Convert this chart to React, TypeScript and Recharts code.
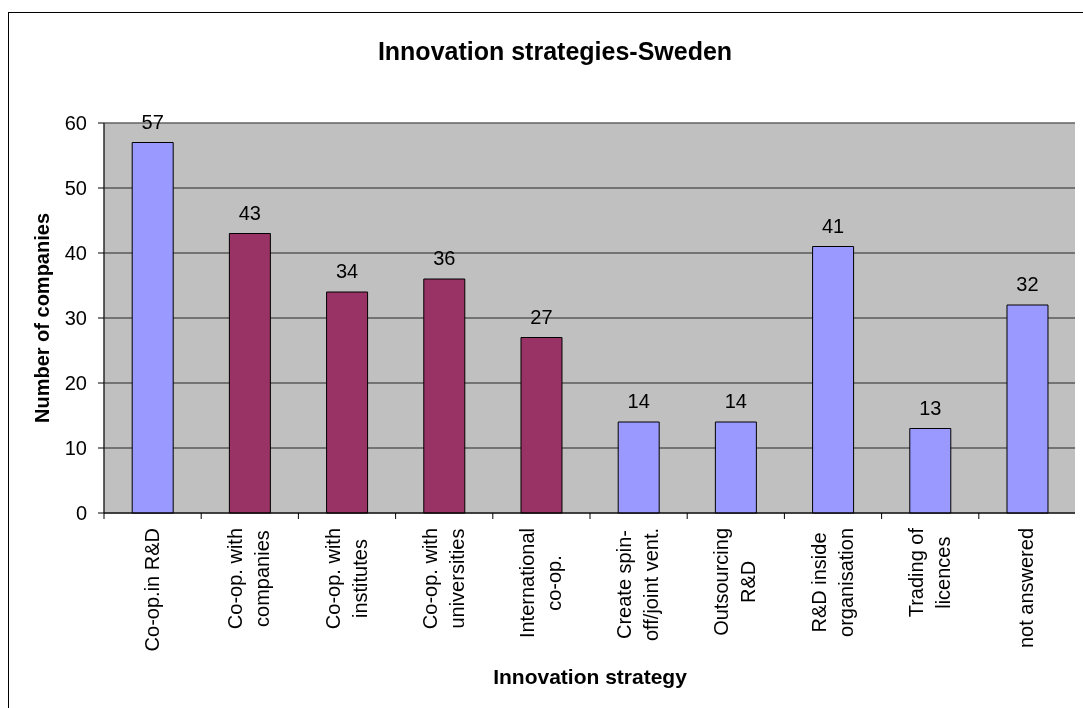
import { Bar, BarChart, CartesianGrid, Cell, LabelList, ReferenceArea, XAxis, YAxis } from "recharts";

const FONT = '"Liberation Sans", Arial, sans-serif';

// categories ("\n" = line break in the axis label)
const strategies = [
  "Co-op.in R&D",
  "Co-op. with\ncompanies",
  "Co-op. with\ninstitutes",
  "Co-op. with\nuniversities",
  "International\nco-op.",
  "Create spin-\noff/joint vent.",
  "Outsourcing\nR&D",
  "R&D inside\norganisation",
  "Trading of\nlicences",
  "not answered"
];
const companies = [57, 43, 34, 36, 27, 14, 14, 41, 13, 32];
// the four co-operation strategies drawn in the second colour
const cooperation = [false, true, true, true, true, false, false, false, false, false];

const yTicks = [0, 10, 20, 30, 40, 50, 60];
const edgeTicks = [0, 1, 2, 3, 4, 5, 6, 7, 8, 9, 10];

const data = strategies.map((strategy, i) => ({
  strategy,
  companies: companies[i],
  pos: i + 0.5
}));

let ctx: CanvasRenderingContext2D | null = null;
function textWidth(t: string) {
  if (!ctx) ctx = document.createElement("canvas").getContext("2d");
  if (!ctx) return t.length * 10;
  ctx.font = `20px ${FONT}`;
  return ctx.measureText(t).width;
}

function StrategyTick({ x, y, payload }: any) {
  const lines = String(payload.value).split("\n");
  const longest = Math.max(...lines.map(textWidth));
  const mid = (lines.length - 1) / 2;
  return (
    <g transform={`translate(${x},${y})`}>
      {lines.map((line, i) => (
        <text
          key={i}
          transform="rotate(-90)"
          x={-longest / 2}
          y={(i - mid) * 27 + 6}
          textAnchor="middle"
          fontSize={20}
          fill="#000"
        >
          {line}
        </text>
      ))}
    </g>
  );
}

export default function App() {
  return (
    <div style={{ position: "relative", width: 1075, height: 692, overflow: "hidden", fontFamily: FONT }}>
      <div
        style={{
          position: "fixed",
          left: 8,
          top: 12,
          width: 2000,
          height: 2000,
          border: "1px solid #000"
        }}
      />
      <div
        style={{
          position: "absolute",
          left: 0,
          top: 30,
          width: 1094,
          textAlign: "center",
          fontSize: 25,
          lineHeight: "26px",
          fontWeight: "bold"
        }}
      >
        Innovation strategies-Sweden
      </div>
      <div
        style={{
          position: "absolute",
          left: 382,
          top: 658,
          width: 400,
          textAlign: "center",
          fontSize: 21,
          lineHeight: "22px",
          fontWeight: "bold"
        }}
      >
        Innovation strategy
      </div>
      <div
        style={{
          position: "absolute",
          left: 34,
          top: 310,
          transform: "translate(-50%, -50%) rotate(-90deg)",
          whiteSpace: "nowrap",
          fontSize: 20,
          lineHeight: "22px",
          fontWeight: "bold"
        }}
      >
        Number of companies
      </div>
      <div style={{ position: "absolute", left: 0, top: 0 }}>
        <BarChart
          width={1075}
          height={692}
          data={data}
          margin={{ top: 115, right: 7, left: 36, bottom: 36 }}
          barCategoryGap="29%"
        >
          <CartesianGrid xAxisId="labels" vertical={false} fill="#C0C0C0" fillOpacity={1} stroke="#262626" />
          <XAxis
            xAxisId="axis"
            dataKey="pos"
            type="number"
            domain={[0, 10]}
            ticks={edgeTicks}
            interval={0}
            height={1}
            tickSize={6}
            tickLine={{ stroke: "#000" }}
            axisLine={{ stroke: "#000" }}
            tickFormatter={() => ""}
          />
          <XAxis
            xAxisId="labels"
            dataKey="strategy"
            height={150}
            axisLine={false}
            tickLine={false}
            tickSize={0}
            tickMargin={14}
            interval={0}
            tick={<StrategyTick />}
          />
          <YAxis
            domain={[0, 60]}
            ticks={yTicks}
            interval={0}
            width={60}
            tickSize={6}
            tickMargin={11}
            axisLine={{ stroke: "#000" }}
            tickLine={{ stroke: "#000" }}
            tick={{ fill: "#000", fontSize: 20 }}
          />
          <ReferenceArea xAxisId="axis" x1={0} x2={10} y1={0} y2={60} fill="none" stroke="#808080" strokeWidth={1} />
          <Bar xAxisId="labels" dataKey="companies" stroke="#000" strokeWidth={1} isAnimationActive={false}>
            {data.map((d, i) => (
              <Cell key={d.strategy} fill={cooperation[i] ? "#993366" : "#9999FF"} />
            ))}
            <LabelList dataKey="companies" position="top" offset={14} fill="#000" fontSize={20} />
          </Bar>
        </BarChart>
      </div>
    </div>
  );
}
